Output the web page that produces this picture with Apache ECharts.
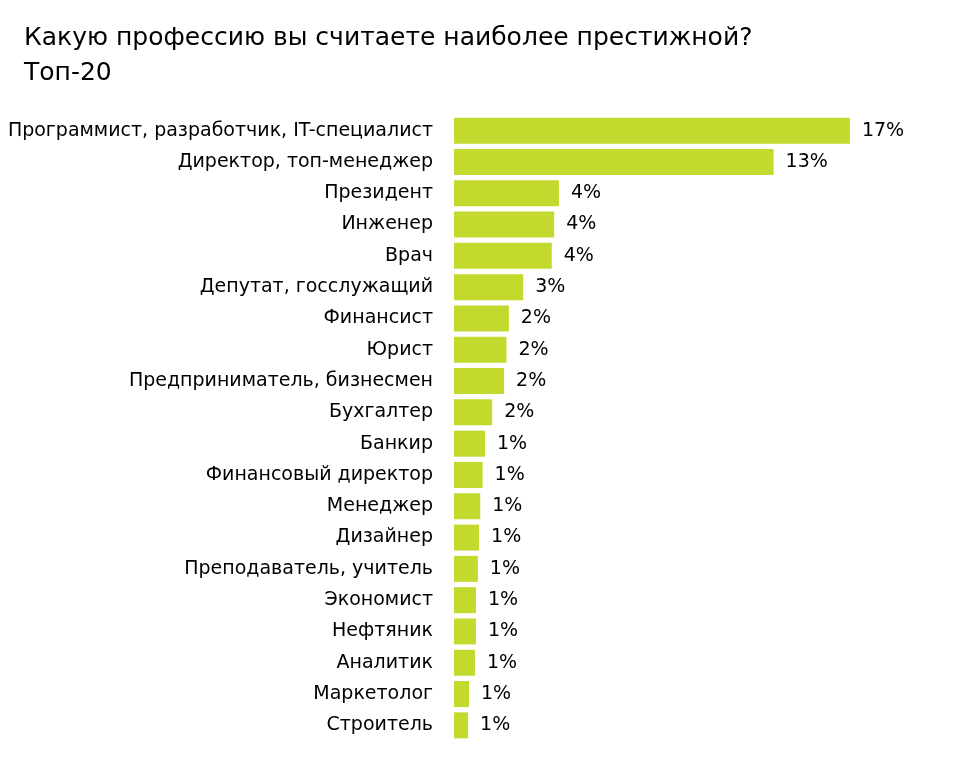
<!DOCTYPE html>
<html>
<head>
<meta charset="utf-8">
<script src="https://cdn.jsdelivr.net/npm/echarts@6/dist/echarts.min.js"></script>
<style>
  html, body { margin: 0; padding: 0; background: #fff; }
  #main { width: 956px; height: 775px; }
</style>
</head>
<body>
<div id="main"></div>
<script>
var professions = [
    'Программист, разработчик, IT-специалист',
    'Директор, топ-менеджер',
    'Президент',
    'Инженер',
    'Врач',
    'Депутат, госслужащий',
    'Финансист',
    'Юрист',
    'Предприниматель, бизнесмен',
    'Бухгалтер',
    'Банкир',
    'Финансовый директор',
    'Менеджер',
    'Дизайнер',
    'Преподаватель, учитель',
    'Экономист',
    'Нефтяник',
    'Аналитик',
    'Маркетолог',
    'Строитель'
];
// share of respondents, %
var shares = [16.6, 13.4, 4.4, 4.2, 4.1, 2.9, 2.3, 2.2, 2.1, 1.6,
              1.3, 1.2, 1.1, 1.05, 1.0, 0.92, 0.92, 0.88, 0.63, 0.59];

var chartDom = document.getElementById('main');
var myChart = echarts.init(chartDom);
var option;

option = {
    backgroundColor: '#ffffff',
    title: {
        text: 'Какую профессию вы считаете наиболее престижной?\nТоп-20',
        left: 19,
        top: 16,
        textStyle: {
            fontFamily: 'DejaVu Sans',
            fontSize: 25,
            fontWeight: 'normal',
            color: '#000',
            lineHeight: 35
        }
    },
    grid: {
        left: 454,
        top: 115,
        width: 477,
        height: 626
    },
    xAxis: {
        type: 'value',
        min: 0,
        max: 20,
        show: false
    },
    yAxis: {
        type: 'category',
        inverse: true,
        data: professions,
        axisLine: { show: false },
        axisTick: { show: false },
        axisLabel: {
            margin: 21,
            fontFamily: 'DejaVu Sans',
            fontSize: 19,
            color: '#000'
        }
    },
    series: [
        {
            type: 'bar',
            data: shares,
            barWidth: 26,
            itemStyle: { color: '#c3d92e' },
            label: {
                show: true,
                position: 'right',
                distance: 12,
                fontFamily: 'DejaVu Sans',
                fontSize: 19,
                color: '#000',
                formatter: function (p) {
                    return Math.round(p.value) + '%';
                }
            },
            animation: false
        }
    ]
};

option && myChart.setOption(option);
</script>
</body>
</html>
